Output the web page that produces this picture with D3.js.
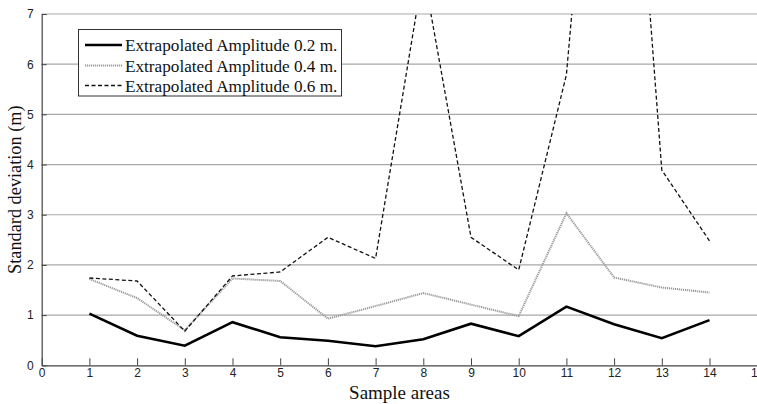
<!DOCTYPE html>
<html><head><meta charset="utf-8">
<script src="https://cdn.jsdelivr.net/npm/d3@7"></script>
<style>body{margin:0;background:#fff}svg{display:block}</style>
</head><body><svg id="c" width="757" height="404"></svg>
<script>
const samples = [1,2,3,4,5,6,7,8,9,10,11,12,13,14];
const amp02 = [1.03,0.59,0.39,0.86,0.56,0.49,0.38,0.52,0.83,0.58,1.17,0.82,0.54,0.90];
const amp04 = [1.72,1.34,0.70,1.73,1.68,0.93,1.18,1.44,1.21,0.98,3.03,1.75,1.55,1.45];
const amp06 = [1.74,1.68,0.68,1.78,1.86,2.55,2.13,7.85,2.55,1.90,5.79,16.5,3.89,2.48];
const xTicks = [0,1,2,3,4,5,6,7,8,9,10,11,12,13,14,15];
const yTicks = [0,1,2,3,4,5,6,7];
const legendLabels = ["Extrapolated Amplitude 0.2 m.","Extrapolated Amplitude 0.4 m.","Extrapolated Amplitude 0.6 m."];

const svg = d3.select("#c");
const L = 41.7, R = 757.2, T = 14, B = 365.3;
const x = d3.scaleLinear().domain([0,15]).range([L,R]);
const y = d3.scaleLinear().domain([0,7]).range([B,T]);

svg.append("defs").append("clipPath").attr("id","clip")
  .append("rect").attr("x",L).attr("y",T).attr("width",R-L).attr("height",B-T);

// grid
svg.append("g").selectAll("line").data(yTicks.filter(d=>d>0)).join("line")
  .attr("x1",L).attr("x2",R).attr("y1",d=>y(d)).attr("y2",d=>y(d))
  .attr("stroke","#a8a8a8").attr("stroke-width",1.2);

// x axis
const xa = svg.append("g").attr("transform",`translate(0,${B})`)
  .call(d3.axisBottom(x).tickValues(xTicks).tickFormat(d3.format("d")).tickSizeInner(-7).tickSizeOuter(0).tickPadding(3));
xa.select(".domain").attr("stroke","#444").attr("stroke-width",1.2);
xa.selectAll(".tick line").attr("stroke","#444");
xa.selectAll("text").attr("font-family","'Liberation Sans', Arial, sans-serif").attr("font-size",12).attr("fill","#222");

// y axis
const ya = svg.append("g").attr("transform",`translate(${L},0)`)
  .call(d3.axisLeft(y).tickValues(yTicks).tickFormat(d3.format("d")).tickSizeInner(-5).tickSizeOuter(0).tickPadding(8));
ya.select(".domain").attr("stroke","#444").attr("stroke-width",1.2);
ya.selectAll(".tick line").attr("stroke","#444");
ya.selectAll("text").attr("font-family","'Liberation Sans', Arial, sans-serif").attr("font-size",12).attr("fill","#222");

const line = d3.line().x((d,i)=>x(samples[i])).y(d=>y(d));
const g = svg.append("g").attr("clip-path","url(#clip)");
g.append("path").datum(amp04).attr("d",line).attr("fill","none")
  .attr("stroke","#9a9a9a").attr("stroke-width",2).attr("stroke-dasharray","1.2,0.8");
g.append("path").datum(amp06).attr("d",line).attr("fill","none")
  .attr("stroke","#111").attr("stroke-width",1.3).attr("stroke-dasharray","4,2.5");
g.append("path").datum(amp02).attr("d",line).attr("fill","none")
  .attr("stroke","#000").attr("stroke-width",2.6);

// legend
const lg = svg.append("g");
lg.append("rect").attr("x",78.5).attr("y",29.5).attr("width",263).attr("height",66.5)
  .attr("fill","#fff").attr("stroke","#333").attr("stroke-width",1);
const styles = [
  {stroke:"#000",w:2.6,dash:null},
  {stroke:"#9a9a9a",w:2,dash:"1.2,0.8"},
  {stroke:"#111",w:1.3,dash:"4,2.5"}
];
const rowY = [45,65.5,85.5];
legendLabels.forEach((t,i)=>{
  lg.append("line").attr("x1",85).attr("x2",122).attr("y1",rowY[i]).attr("y2",rowY[i])
    .attr("stroke",styles[i].stroke).attr("stroke-width",styles[i].w)
    .attr("stroke-dasharray",styles[i].dash);
  lg.append("text").attr("x",125).attr("y",rowY[i]).attr("dy","0.35em")
    .attr("font-family","'Liberation Serif','Times New Roman',serif").attr("font-size",17.2)
    .attr("fill","#111").text(t);
});

// axis titles
svg.append("text").attr("x",x(7.5)).attr("y",399)
  .attr("text-anchor","middle").attr("font-family","'Liberation Serif','Times New Roman',serif")
  .attr("font-size",19).attr("fill","#111").text("Sample areas");
svg.append("text").attr("transform",`translate(21,${(T+B)/2}) rotate(-90)`)
  .attr("text-anchor","middle").attr("font-family","'Liberation Serif','Times New Roman',serif")
  .attr("font-size",18.3).attr("fill","#111").text("Standard deviation (m)");
</script></body></html>
